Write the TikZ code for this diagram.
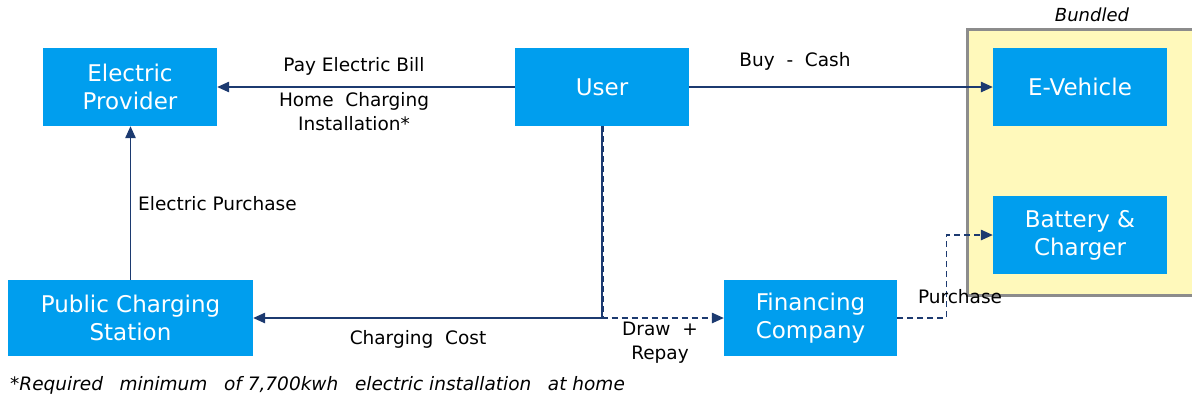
\documentclass[tikz,border=0pt]{standalone}
\usepackage{fontspec}
\setmainfont{DejaVu Sans}
\usetikzlibrary{arrows.meta}

\definecolor{boxblue}{RGB}{0,158,238}
\definecolor{flowblue}{RGB}{28,58,112}
\definecolor{bundlefill}{RGB}{255,249,187}
\definecolor{bundleedge}{RGB}{140,140,140}

\tikzset{
  actor/.style={fill=boxblue, text=white, inner sep=0pt, align=center,
    minimum width=174pt, minimum height=78pt,
    font=\fontsize{23}{28}\selectfont},
  lbl/.style={text=black, inner sep=0pt, align=center,
    font=\fontsize{18.5}{24}\selectfont},
  flow/.style={draw=flowblue, line width=1.3pt,
    -{Triangle[length=12pt,width=10.5pt]}},
  loan/.style={flow, dash pattern=on 6pt off 4pt},
}

\begin{document}
\begin{tikzpicture}[x=1pt,y=-1pt]
\useasboundingbox (0,0) rectangle (1192,400);

% bundle frame
\draw[bundleedge, line width=3pt, fill=bundlefill] (967,29) rectangle (1198,295);
\node[lbl, font=\fontsize{18}{22}\selectfont\itshape] (bundled) at (1092,15) {Bundled};

% parties
\node[actor] (prov) at (130,87) {Electric\\Provider};
\node[actor] (user) at (602,87) {User};
\node[actor] (ev)   at (1080,87) {E-Vehicle};
\node[actor] (bat)  at (1080,235) {Battery \&\\Charger};
\node[actor, minimum width=245pt, minimum height=76pt] (pcs) at (130.5,318) {Public Charging\\Station};
\node[actor, minimum width=173pt, minimum height=76pt] (fin) at (810.5,318) {Financing\\Company};

% money flows
\draw[flow] (user.west) -- (prov.east);
\draw[flow] (user.east) -- (ev.west);
\draw[flow] (pcs.north) -- (pcs.north |- prov.south);
\draw[flow] (user.south) |- (pcs.east);
\draw[loan] ([xshift=1.5pt]user.south) |- (fin.west);
\draw[loan] (fin.east) -- ++(49,0) |- (bat.west);

% flow labels
\node[lbl] (l1) at (354,66) {Pay Electric Bill};
\node[lbl] (l2) at (354,112) {Home\ \ Charging\\Installation*};
\node[lbl] (l3) at (795,61) {Buy\ \ -\ \ Cash};
\node[lbl, anchor=west] (l4) at (138,204) {Electric Purchase};
\node[lbl] (l5) at (418,339) {Charging\ \ Cost};
\node[lbl] (l6) at (660,342.5) {Draw\ \ +\\Repay};
\node[lbl] (l7) at (960,297) {Purchase};

% footnote
\node[lbl, anchor=west, font=\fontsize{18.5}{22}\selectfont\itshape] (note) at (10,385)
  {*Required\hspace{0.9em}minimum\hspace{0.9em}of 7,700kwh\hspace{0.9em}electric installation\hspace{0.9em}at home};
\end{tikzpicture}
\end{document}
